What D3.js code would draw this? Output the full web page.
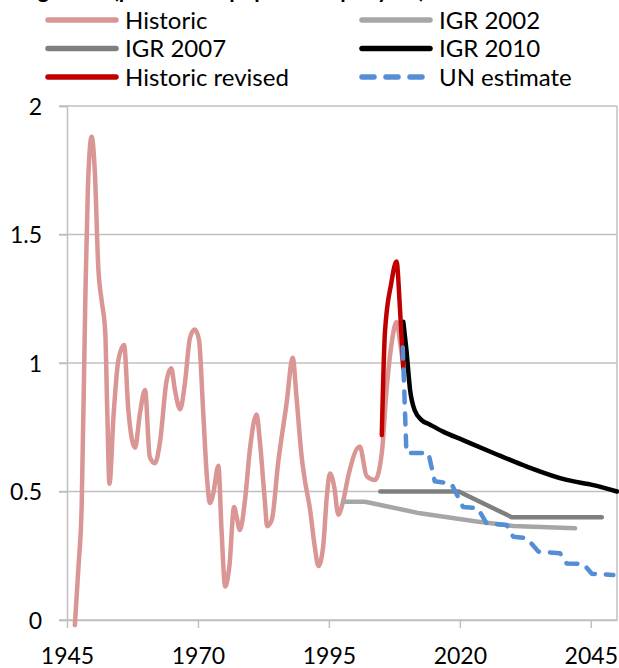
<!DOCTYPE html>
<html>
<head>
<meta charset="utf-8">
<script src="https://cdn.jsdelivr.net/npm/d3@7"></script>
<style>
  body { margin: 0; background: #fff; }
  text { font-family: Lato, "Open Sans", sans-serif; fill: #000; }
</style>
</head>
<body>
<script>
// series: [year, value]
var historic = [
  [1946.5, -0.02], [1947.2, 0.21], [1947.8, 0.44], [1948.5, 1.25], [1949.0, 1.69],
  [1949.7, 1.88], [1950.3, 1.75], [1951.0, 1.36], [1951.6, 1.245], [1952.3, 1.12],
  [1952.7, 0.80], [1953.1, 0.53], [1953.9, 0.80], [1954.8, 1.01], [1955.9, 1.07],
  [1956.7, 0.82], [1958.0, 0.67], [1958.9, 0.80], [1959.9, 0.895], [1960.8, 0.635],
  [1961.8, 0.61], [1962.8, 0.70], [1964.0, 0.93], [1964.9, 0.98], [1965.6, 0.895],
  [1966.6, 0.82], [1967.5, 0.92], [1968.5, 1.10], [1969.4, 1.13], [1970.2, 1.09],
  [1971.0, 0.81], [1971.7, 0.56], [1972.3, 0.455], [1972.9, 0.49], [1973.9, 0.60],
  [1974.5, 0.35], [1975.2, 0.13], [1976.0, 0.21], [1976.9, 0.44], [1977.4, 0.40],
  [1978.0, 0.35], [1979.0, 0.47], [1979.9, 0.66], [1981.2, 0.80], [1981.8, 0.70],
  [1982.8, 0.455], [1983.2, 0.365], [1984.1, 0.39], [1985.3, 0.61], [1986.9, 0.84],
  [1988.1, 1.02], [1988.8, 0.87], [1989.8, 0.635], [1990.4, 0.545], [1991.4, 0.43],
  [1992.3, 0.285], [1993.0, 0.21], [1993.9, 0.285], [1994.6, 0.48], [1995.2, 0.57],
  [1996.0, 0.52], [1996.8, 0.41], [1997.8, 0.47], [1998.7, 0.56], [2000.9, 0.675],
  [2002.2, 0.56], [2003.8, 0.545], [2005.1, 0.65], [2006.0, 0.895], [2007.0, 1.08],
  [2007.9, 1.16], [2008.6, 1.08], [2009.2, 0.985]
];
var igr2002 = [[1997.8, 0.46], [2001.9, 0.46], [2012.4, 0.415], [2023.2, 0.383], [2030.2, 0.366], [2042.0, 0.357]];
var igr2007 = [[2004.8, 0.50], [2019.8, 0.50], [2029.9, 0.40], [2047.1, 0.40]];
var igr2010 = [
  [2009.2, 1.16], [2009.8, 1.05], [2010.5, 0.895], [2011.4, 0.815], [2012.7, 0.778],
  [2014.3, 0.76], [2016.8, 0.733], [2020.6, 0.70], [2026.4, 0.65], [2032.8, 0.597],
  [2040.4, 0.545], [2045.5, 0.525], [2050.0, 0.50]
];
var historicRevised = [[2005.1, 0.72], [2005.7, 1.12], [2006.9, 1.31], [2007.9, 1.395], [2008.6, 1.20], [2009.2, 0.98]];
var unEstimate = [
  [2009.1, 1.06], [2009.8, 0.65], [2014.0, 0.65], [2015.2, 0.54], [2018.4, 0.53],
  [2020.6, 0.44], [2023.4, 0.435], [2025.1, 0.376], [2028.9, 0.37], [2030.2, 0.324],
  [2032.8, 0.318], [2035.0, 0.266], [2039.1, 0.26], [2040.4, 0.22], [2043.6, 0.218],
  [2045.2, 0.18], [2049.3, 0.175]
];

var xTicks = [1945, 1970, 1995, 2020, 2045];
var yTicks = [0, 0.5, 1, 1.5, 2];
var legendNames = ["Historic", "IGR 2002", "IGR 2007", "IGR 2010", "Historic revised", "UN estimate"];

var w = 619, h = 668;
var margin = { top: 106, right: 2, bottom: 48, left: 67 };
var width = w - margin.left - margin.right;
var height = h - margin.top - margin.bottom;

var svg = d3.select("body").append("svg")
    .attr("width", w)
    .attr("height", h);

// title, almost all of it above the top edge of the picture
svg.append("text")
    .attr("x", 425)
    .attr("y", -2)
    .style("text-anchor", "end")
    .style("font-weight", "bold")
    .style("font-size", "22px")
    .text("Net overseas migration (per cent of population per year)");

var chart = svg.append("g")
    .attr("transform", "translate(" + margin.left + "," + margin.top + ")");

var x = d3.scaleLinear().domain([1945, 2050]).range([0, width]);
var y = d3.scaleLinear().domain([0, 2]).range([height, 0]);

// gridlines
chart.selectAll(".grid")
    .data(yTicks)
    .enter().append("line")
    .attr("x1", -8)
    .attr("x2", width)
    .attr("y1", function(d) { return y(d); })
    .attr("y2", function(d) { return y(d); })
    .style("stroke", "#c0c0c0")
    .style("stroke-width", 1.5);

// plot border on the right
chart.append("line")
    .attr("x1", width).attr("x2", width)
    .attr("y1", 0).attr("y2", height)
    .style("stroke", "#c0c0c0")
    .style("stroke-width", 1.5);

// y axis
var yAxis = d3.axisLeft(y).tickValues(yTicks).tickSize(8).tickFormat(d3.format("~g"));
var gy = chart.append("g").call(yAxis);
gy.select(".domain").style("stroke", "#c0c0c0").style("stroke-width", 1.5);
gy.selectAll(".tick line").style("stroke", "#c0c0c0").style("stroke-width", 1.5);
gy.selectAll(".tick text")
    .attr("x", -25)
    .attr("dy", "0.36em")
    .style("font-size", "23px")
    .style("font-family", "Lato, sans-serif");

// x axis
var xAxis = d3.axisBottom(x).tickValues(xTicks).tickSize(8).tickSizeOuter(0).tickFormat(d3.format("d"));
var gx = chart.append("g")
    .attr("transform", "translate(0," + height + ")")
    .call(xAxis);
gx.select(".domain").style("stroke", "#c0c0c0").style("stroke-width", 1.5);
gx.selectAll(".tick line").style("stroke", "#c0c0c0").style("stroke-width", 1.5);
gx.selectAll(".tick text")
    .attr("y", 44)
    .attr("dy", null)
    .style("font-size", "23px")
    .style("font-family", "Lato, sans-serif");

// series
var smooth = d3.line()
    .x(function(d) { return x(d[0]); })
    .y(function(d) { return y(d[1]); })
    .curve(d3.curveMonotoneX);
var straight = d3.line()
    .x(function(d) { return x(d[0]); })
    .y(function(d) { return y(d[1]); });

var series = [
  { name: legendNames[0], data: historic, color: "#d99694", gen: smooth, dash: null },
  { name: legendNames[1], data: igr2002, color: "#a6a6a6", gen: straight, dash: null },
  { name: legendNames[2], data: igr2007, color: "#7f7f7f", gen: straight, dash: null },
  { name: legendNames[3], data: igr2010, color: "#000000", gen: smooth, dash: null },
  { name: legendNames[4], data: historicRevised, color: "#c00000", gen: smooth, dash: null },
  { name: legendNames[5], data: unEstimate, color: "#558ed5", gen: straight, dash: "11,11" }
];

series.forEach(function(s) {
    chart.append("path")
        .attr("d", s.gen(s.data))
        .style("fill", "none")
        .style("stroke", s.color)
        .style("stroke-width", 4.5)
        .style("stroke-linejoin", "round")
        .style("stroke-linecap", "round")
        .style("stroke-dasharray", s.dash);
});

// legend: left column Historic, IGR 2007, Historic revised; right column IGR 2002, IGR 2010, UN estimate
var legendPos = [
  { col: 0, row: 0 }, { col: 1, row: 0 },
  { col: 0, row: 1 }, { col: 1, row: 1 },
  { col: 0, row: 2 }, { col: 1, row: 2 }
];
var colX = [48, 362];
var rowY = [20, 48.5, 77];

var legend = svg.append("g");
series.forEach(function(s, i) {
    var px = colX[legendPos[i].col], py = rowY[legendPos[i].row];
    legend.append("line")
        .attr("x1", px).attr("x2", px + 68)
        .attr("y1", py).attr("y2", py)
        .style("stroke", s.color)
        .style("stroke-width", 5.5)
        .style("stroke-linecap", "round")
        .style("stroke-dasharray", s.dash ? "12,12" : null);
    legend.append("text")
        .attr("x", px + 77)
        .attr("y", py + 8.5)
        .style("font-size", "24px")
        .text(s.name);
});
</script>
</body>
</html>
